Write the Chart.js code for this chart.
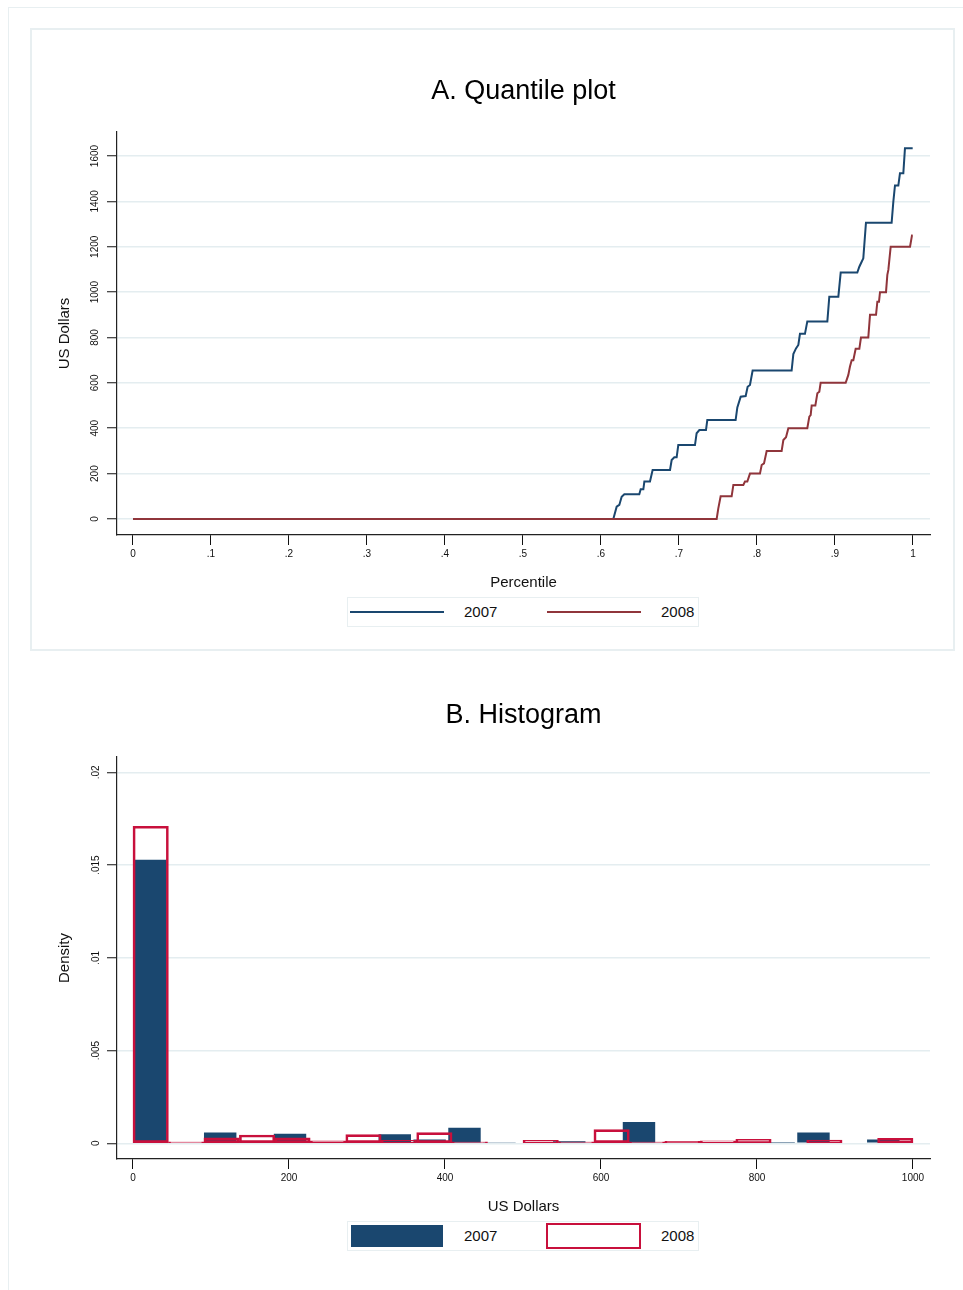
<!DOCTYPE html>
<html>
<head>
<meta charset="utf-8">
<script src="https://cdn.jsdelivr.net/npm/chart.js@4.4.1/dist/chart.umd.min.js"></script>
<style>
  html, body { margin: 0; padding: 0; background: #fff; }
  body { width: 963px; height: 1290px; position: relative; overflow: hidden; font-family: "Liberation Sans", Arial, Helvetica, sans-serif; }
  .frame { position: absolute; box-sizing: border-box; border: 1.5px solid #e8eff1; }
  .chartbox { position: absolute; }
  .legend { position: absolute; box-sizing: border-box; border: 1.5px solid #e8eff1; background: #fff; }
  .key { position: absolute; box-sizing: border-box; }
  .lbl { position: absolute; font-size: 15px; line-height: 18px; color: #111; }
</style>
</head>
<body>
<div class="frame" style="left:8px;top:7px;width:990px;height:1320px;"></div>
<div class="frame" style="left:30px;top:28px;width:925px;height:623px;border-width:2px;"></div>
<div class="chartbox" style="left:30px;top:28px;width:925px;height:623px;"><canvas id="quant"></canvas></div>
<div class="chartbox" style="left:30px;top:651px;width:925px;height:639px;"><canvas id="hist"></canvas></div>

<script>
// ---- A. quantile plot: corners of the step lines (percentile, US dollars)
const quantileP2007 = [0, 0.6158, 0.6201, 0.6235, 0.6265, 0.6299, 0.6491, 0.6509, 0.6543, 0.6556, 0.6628, 0.6662,
  0.6885, 0.6906, 0.6940, 0.6970, 0.6991, 0.7205, 0.7226, 0.7261, 0.7346, 0.7363, 0.7726, 0.7748, 0.7791,
  0.7855, 0.7880, 0.7910, 0.7944, 0.8444, 0.8466, 0.8500, 0.8530, 0.8551, 0.8615, 0.8645, 0.8902, 0.8927,
  0.9043, 0.9073, 0.9286, 0.9312, 0.9342, 0.9363, 0.9397, 0.9726, 0.9748, 0.9769, 0.9812, 0.9833, 0.9876,
  0.9897, 0.9996];
const quantileUSD2007 = [0, 0, 54, 62, 98, 109, 109, 131, 131, 165, 165, 216,
  216, 260, 272, 272, 326, 326, 378, 392, 392, 436, 436, 492, 539,
  542, 583, 591, 654, 654, 727, 752, 767, 816, 816, 871, 871, 980,
  980, 1086, 1086, 1112, 1134, 1149, 1306, 1306, 1399, 1470, 1470, 1524, 1524,
  1634, 1634];

const quantileP2008 = [0, 0.7483, 0.7504, 0.7534, 0.7675, 0.7697, 0.7825, 0.7846, 0.7876, 0.7910, 0.8038, 0.8060,
  0.8090, 0.8124, 0.8316, 0.8338, 0.8372, 0.8402, 0.8645, 0.8671, 0.8688, 0.8701, 0.8748, 0.8774, 0.8799,
  0.8816, 0.9137, 0.9171, 0.9192, 0.9214, 0.9235, 0.9265, 0.9312, 0.9333, 0.9427, 0.9449, 0.9526, 0.9543,
  0.9564, 0.9577, 0.9654, 0.9671, 0.9684, 0.9714, 0.9962, 0.9987, 0.9996];
const quantileUSD2008 = [0, 0, 47, 100, 100, 150, 150, 165, 165, 200, 200, 238,
  245, 300, 300, 348, 360, 400, 400, 451, 458, 500, 500, 554, 561,
  600, 600, 635, 672, 700, 700, 750, 750, 800, 800, 900, 900, 958,
  958, 1000, 1000, 1076, 1098, 1200, 1200, 1250, 1250];

const percentileTicks = [0, 0.1, 0.2, 0.3, 0.4, 0.5, 0.6, 0.7, 0.8, 0.9, 1];
const dollarTicksA = [0, 200, 400, 600, 800, 1000, 1200, 1400, 1600];

// ---- B. histogram: bin midpoints (US dollars) and densities
const binMid2007 = [22.4, 67.1, 111.8, 156.6, 201.3, 246.1, 290.8, 335.6, 380.3, 425.0, 469.8,
  514.5, 559.3, 604.0, 648.7, 693.5, 738.2, 783.0, 827.7, 872.4, 917.2, 961.9];
const density2007 = [0.01529, 0, 0.00058, 0.00013, 0.00052, 0, 0, 0.00049, 0.0002, 0.00084, 0.00003,
  0, 0.00011, 0, 0.00115, 0.00004, 0.00004, 0, 0.00007, 0.00058, 0, 0.0002];

const binMid2008 = [22.7, 68.2, 113.6, 159.1, 204.5, 250.0, 295.5, 340.9, 386.4, 431.8, 477.3,
  522.7, 568.2, 613.6, 659.1, 704.5, 750.0, 795.5, 840.9, 886.4, 931.8, 977.3];
const density2008 = [0.01709, 0.00008, 0.0003, 0.00045, 0.0003, 0.00013, 0.00047, 0.00016, 0.00058, 0.00008, 0,
  0.00016, 0.00008, 0.00074, 0.00008, 0.0001, 0.00014, 0.00022, 0, 0.00018, 0, 0.00027];

const dollarTicksB = [0, 200, 400, 600, 800, 1000];
const densityTicks = [0, 0.005, 0.01, 0.015, 0.02];

const navy = '#1a476f';
const maroon = '#90353b';
const cranberry = '#c8103c';
const gridColor = '#e4edf0';

Chart.defaults.font.family = '"Liberation Sans", Arial, Helvetica, sans-serif';
Chart.defaults.color = '#111';

function pts(xs, ys) {
  return xs.map(function(x, i) { return {x: x, y: ys[i]}; });
}
function fixTicks(values) {
  return function(scale) { scale.ticks = values.map(function(v) { return {value: v}; }); };
}
// stata style: .1 instead of 0.1
function stataLabel(v) {
  return String(v).replace(/^0\./, '.');
}

function xAxis(min, max, ticks, title, show) {
  return {
    type: 'linear', position: 'bottom', display: show, min: min, max: max, offset: false,
    afterBuildTicks: fixTicks(ticks),
    afterFit: function(s) { s.height = show ? 75 : 0; },
    ticks: { font: {size: 10}, padding: 3, maxRotation: 0, autoSkip: false, callback: stataLabel, color: '#111' },
    grid: { offset: false, drawOnChartArea: false, tickLength: 10, tickColor: '#111', tickWidth: 1 },
    border: { color: '#222', width: 1.2 },
    title: { display: show, text: title, color: '#111', font: {size: 15}, padding: {top: 0, bottom: 18} }
  };
}
function yAxis(min, max, ticks, title) {
  return {
    min: min, max: max,
    afterBuildTicks: fixTicks(ticks),
    afterFit: function(s) { s.width = 87; },
    ticks: { font: {size: 10}, padding: 1, minRotation: 90, maxRotation: 90, crossAlign: 'center', autoSkip: false, callback: stataLabel, color: '#111' },
    grid: { color: gridColor, lineWidth: 1.5, tickLength: 10, tickColor: '#111', tickWidth: 1 },
    border: { color: '#222', width: 1.2 },
    title: { display: true, text: title, color: '#111', font: {size: 15}, padding: {top: 26, bottom: 0} }
  };
}
function titleOpts(text, top, bottom) {
  return { display: true, text: text, fullSize: false, color: '#000',
    font: {size: 27, weight: 'normal'}, padding: {top: top, bottom: bottom} };
}

var quant = new Chart(document.getElementById('quant'), {
  type: 'line',
  data: {
    datasets: [
      { label: '2007', data: pts(quantileP2007, quantileUSD2007), borderColor: navy, borderWidth: 2, pointRadius: 0, fill: false, tension: 0, order: 2 },
      { label: '2008', data: pts(quantileP2008, quantileUSD2008), borderColor: maroon, borderWidth: 2, pointRadius: 0, fill: false, tension: 0, order: 1 }
    ]
  },
  options: {
    responsive: true, maintainAspectRatio: false, animation: false,
    layout: { padding: {left: 0, right: 25, top: 0, bottom: 41} },
    plugins: {
      legend: { display: false },
      tooltip: { enabled: false },
      title: titleOpts('A. Quantile plot', 47.8, 23.8)
    },
    scales: {
      x: xAxis(-0.0205, 1.0218, percentileTicks, 'Percentile', true),
      y: yAxis(-70.6, 1705.9, dollarTicksA, 'US Dollars')
    }
  }
});

var hist = new Chart(document.getElementById('hist'), {
  type: 'bar',
  data: {
    datasets: [
      { label: '2007', data: pts(binMid2007, density2007), xAxisID: 'x', backgroundColor: navy, borderWidth: 0,
        barPercentage: 0.93, categoryPercentage: 1, grouped: false, order: 2 },
      { label: '2008', data: pts(binMid2008, density2008), xAxisID: 'x2', backgroundColor: 'rgba(255,255,255,0)',
        borderColor: cranberry, borderWidth: 2, borderSkipped: false,
        barPercentage: 1, categoryPercentage: 1, grouped: false, order: 1 }
    ]
  },
  options: {
    responsive: true, maintainAspectRatio: false, animation: false,
    layout: { padding: {left: 0, right: 25, top: 0, bottom: 56} },
    plugins: {
      legend: { display: false },
      tooltip: { enabled: false },
      title: titleOpts('B. Histogram', 48.8, 24.8)
    },
    scales: {
      x: xAxis(-20.5, 1021.8, dollarTicksB, 'US Dollars', true),
      x2: xAxis(-20.5, 1021.8, dollarTicksB, '', false),
      y: yAxis(-0.000846, 0.020825, densityTicks, 'Density')
    }
  }
});

// legends drawn as html boxes under each graph
function addLegend(chart, top, keys) {
  var box = document.createElement('div');
  box.className = 'legend';
  box.style.cssText = 'left:347px;top:' + top + 'px;width:352px;height:30px;';
  document.body.appendChild(box);
  chart.data.datasets.forEach(function(ds, i) {
    var k = keys[i];
    var key = document.createElement('div');
    key.className = 'key';
    key.style.cssText = k.css;
    document.body.appendChild(key);
    var lbl = document.createElement('div');
    lbl.className = 'lbl';
    lbl.textContent = ds.label;
    lbl.style.left = k.textLeft + 'px';
    lbl.style.top = (top + 6) + 'px';
    document.body.appendChild(lbl);
  });
}

addLegend(quant, 597, [
  { css: 'left:350px;top:611px;width:94px;height:2px;background:' + navy + ';', textLeft: 464 },
  { css: 'left:547px;top:611px;width:94px;height:2px;background:' + maroon + ';', textLeft: 661 }
]);
addLegend(hist, 1221, [
  { css: 'left:351px;top:1225px;width:92px;height:22px;background:' + navy + ';', textLeft: 464 },
  { css: 'left:546px;top:1223px;width:95px;height:26px;border:2px solid ' + cranberry + ';', textLeft: 661 }
]);
</script>
</body>
</html>
